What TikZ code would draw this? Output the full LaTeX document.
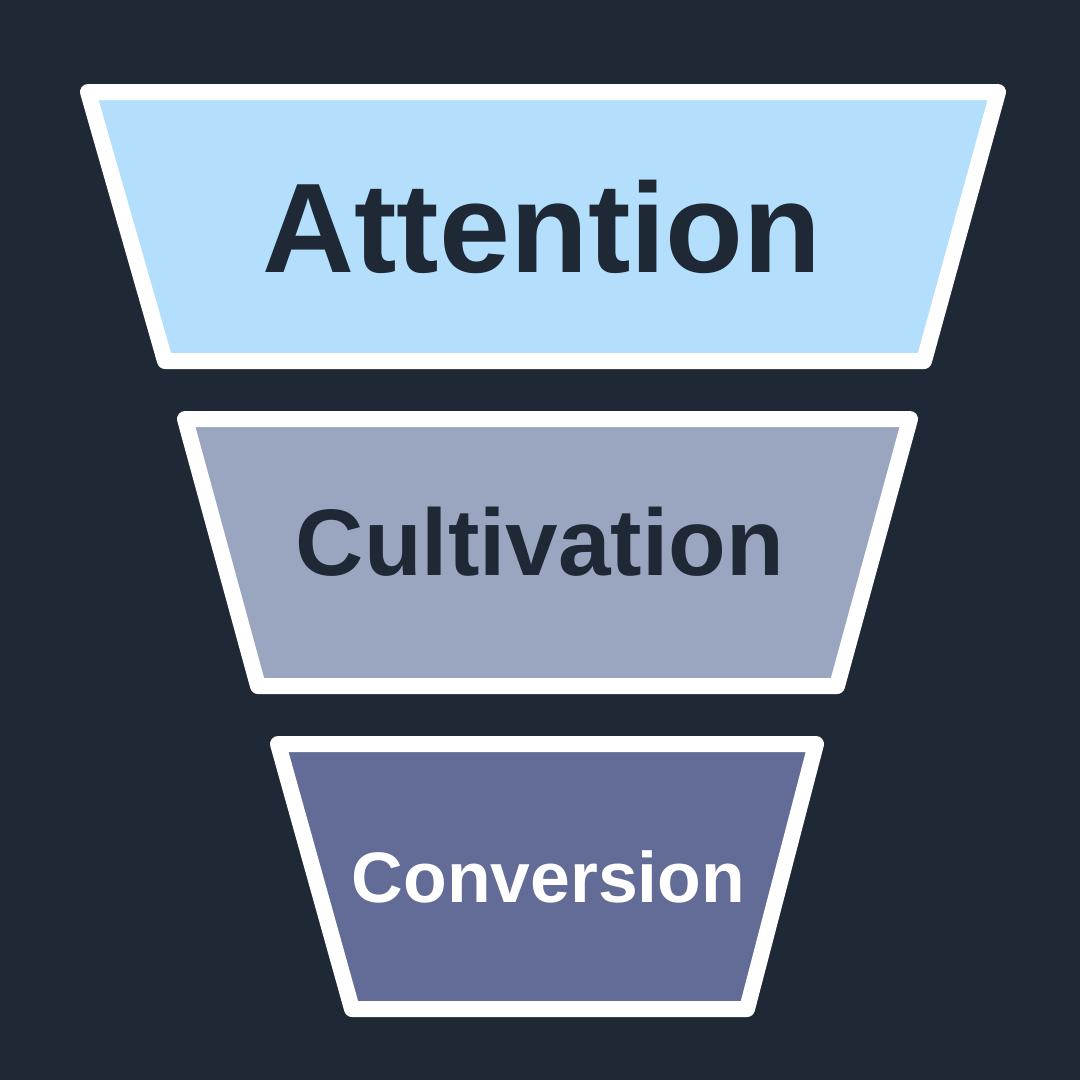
\documentclass[tikz,border=0pt]{standalone}
\usepackage{fontspec}
\setmainfont{Liberation Sans}
\definecolor{bg}{HTML}{1F2936}
\definecolor{fillA}{HTML}{B3DFFC}
\definecolor{fillB}{HTML}{9AA5C0}
\definecolor{fillC}{HTML}{626C96}
\definecolor{ink}{HTML}{1F2936}
\begin{document}
\begin{tikzpicture}[x=1pt,y=-1pt,
  stage/.style={draw=white,line width=16pt,line join=round},
  lbl/.style={anchor=base,inner sep=0pt}]
\fill[bg] (0,0) rectangle (1080,1080);
\useasboundingbox (0,0) rectangle (1080,1080);
\filldraw[stage,fill=fillA] (88,92) -- (998,92) -- (924,361) -- (165,361) -- cycle;
\filldraw[stage,fill=fillB] (185,419) -- (910,419) -- (837,686) -- (258,686) -- cycle;
\filldraw[stage,fill=fillC] (278,744) -- (816,744) -- (747,1009) -- (352,1009) -- cycle;
\node[lbl,text=ink,font=\fontsize{127.5}{127.5}\selectfont\bfseries] (att) at (542,272) {Attention};
\node[lbl,text=ink,font=\fontsize{94.5}{94.5}\selectfont\bfseries] (cul) at (540,575) {Cultivation};
\node[lbl,text=white,font=\fontsize{71.5}{71.5}\selectfont\bfseries] (con) at (548.5,902) {Conversion};
\end{tikzpicture}
\end{document}
